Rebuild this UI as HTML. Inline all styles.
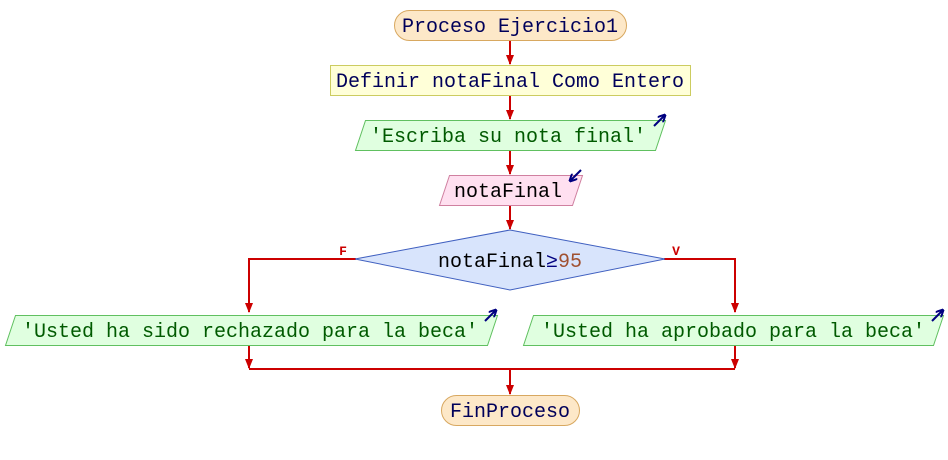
<!DOCTYPE html>
<html><head><meta charset="utf-8"><style>
html,body{margin:0;padding:0;background:#fff;}
svg{display:block;}
text{font-family:"Liberation Mono","DejaVu Sans Mono",monospace;font-size:20px;}
</style></head><body>
<svg width="948" height="460" viewBox="0 0 948 460" xmlns="http://www.w3.org/2000/svg">
<defs>
<marker id="ar" markerWidth="10" markerHeight="8" refX="9" refY="4" orient="auto" markerUnits="userSpaceOnUse">
<path d="M0,0 L10,4 L0,8 z" fill="#cc0000"/></marker>
<marker id="ab" markerWidth="8" markerHeight="8" refX="7" refY="4" orient="auto" markerUnits="userSpaceOnUse">
<path d="M0,0 L8,4 L0,8" fill="none" stroke="#000080" stroke-width="2"/></marker>
</defs>
<g stroke="#cc0000" stroke-width="2" fill="none">
<line x1="510" y1="40" x2="510" y2="64" marker-end="url(#ar)"/>
<line x1="510" y1="95" x2="510" y2="119" marker-end="url(#ar)"/>
<line x1="510" y1="150" x2="510" y2="174" marker-end="url(#ar)"/>
<line x1="510" y1="205" x2="510" y2="229" marker-end="url(#ar)"/>
<polyline points="356,259 249,259 249,312" marker-end="url(#ar)"/>
<polyline points="664,259 735,259 735,312" marker-end="url(#ar)"/>
<line x1="249" y1="345" x2="249" y2="368" marker-end="url(#ar)"/>
<line x1="735" y1="345" x2="735" y2="368" marker-end="url(#ar)"/>
<line x1="249" y1="369" x2="735" y2="369"/>
<line x1="510" y1="369" x2="510" y2="394" marker-end="url(#ar)"/>
</g>
<rect x="394.5" y="10.5" width="232" height="30" rx="15" fill="#fde8c8" stroke="#d8a860"/>
<text x="510" y="32" text-anchor="middle" fill="#00005a">Proceso Ejercicio1</text>
<rect x="330.5" y="65.5" width="360" height="30" fill="#ffffd8" stroke="#cccc60"/>
<text x="510" y="87" text-anchor="middle" fill="#00005a">Definir notaFinal Como Entero</text>
<polygon points="365.5,120.5 665.5,120.5 655.5,150.5 355.5,150.5" fill="#e0ffe0" stroke="#60c060"/>
<text x="508" y="142" text-anchor="middle" fill="#005a00">'Escriba su nota final'</text>
<line x1="654" y1="126" x2="665" y2="115" stroke="#000080" stroke-width="2" marker-end="url(#ab)"/>
<polygon points="449.5,175.5 582.5,175.5 572.5,205.5 439.5,205.5" fill="#ffe0f0" stroke="#d080a0"/>
<text x="508" y="197" text-anchor="middle" fill="#000">notaFinal</text>
<line x1="581" y1="170" x2="570" y2="181" stroke="#000080" stroke-width="2" marker-end="url(#ab)"/>
<polygon points="510,230 665,259 510,290 355,259" fill="#d8e4fc" stroke="#4060c0"/>
<text x="510" y="267" text-anchor="middle"><tspan fill="#000">notaFinal</tspan><tspan fill="#000080">≥</tspan><tspan fill="#a05030">95</tspan></text>
<text x="343" y="255" text-anchor="middle" fill="#cc0000" style="font-size:13px;font-weight:bold">F</text>
<text x="676" y="255" text-anchor="middle" fill="#cc0000" style="font-size:13px;font-weight:bold">V</text>
<polygon points="15.5,315.5 497.5,315.5 487.5,345.5 5.5,345.5" fill="#e0ffe0" stroke="#60c060"/>
<text x="250" y="337" text-anchor="middle" fill="#005a00">'Usted ha sido rechazado para la beca'</text>
<line x1="485" y1="321" x2="496" y2="310" stroke="#000080" stroke-width="2" marker-end="url(#ab)"/>
<polygon points="533.5,315.5 943.5,315.5 933.5,345.5 523.5,345.5" fill="#e0ffe0" stroke="#60c060"/>
<text x="733" y="337" text-anchor="middle" fill="#005a00">'Usted ha aprobado para la beca'</text>
<line x1="932" y1="321" x2="943" y2="310" stroke="#000080" stroke-width="2" marker-end="url(#ab)"/>
<rect x="441.5" y="395.5" width="138" height="30" rx="15" fill="#fde8c8" stroke="#d8a860"/>
<text x="510" y="417" text-anchor="middle" fill="#00005a">FinProceso</text>
</svg>
</body></html>
